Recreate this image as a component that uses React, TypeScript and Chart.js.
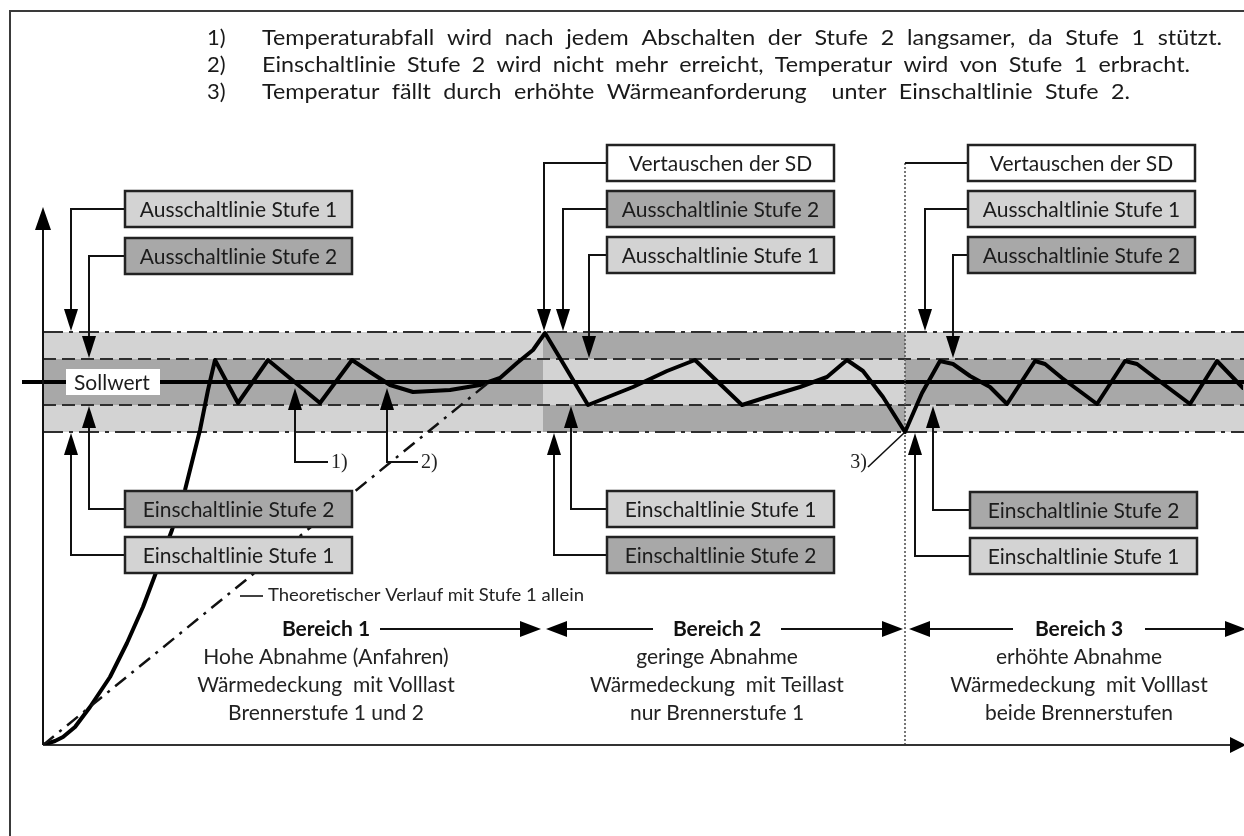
import React, { useEffect, useRef } from 'react';
import { Chart, registerables } from 'chart.js';

Chart.register(...registerables);

// ---------- data (time units / relative temperature units) ----------
const SOLLWERT = 36.3;
const STUFE2_BAND = 2.3; // half-width of Stufe 2 switching band
const STUFE1_BAND = 5.0; // half-width of Stufe 1 switching band
const REGION_BOUNDS = [0, 50, 86.2, 120];

const CURVE_TIME = [
  0, 1.2, 2.0, 3.2, 4.7, 6.7, 8.4, 10.0, 11.7, 12.9, 14.2, 15.7, 16.5, 17.2,
  19.5, 22.5, 27.7, 30.9, 32.7, 34.7, 37.0, 40.7, 43.7, 45.7, 47.4, 49.0, 50.2,
  54.5, 59.0, 62.4, 65.2, 69.9, 72.4, 75.7, 78.4, 80.4, 82.0, 84.0, 86.2,
  87.9, 89.7, 91.0, 92.7, 94.7, 96.4, 99.2, 100.2, 101.9, 105.4, 108.2, 109.4, 111.9, 114.7, 117.4, 120.0,
];
const CURVE_TEMP = [
  0, 0.4, 0.8, 1.8, 3.8, 6.8, 10.2, 13.8, 18.3, 21.5, 25.5, 31.5, 35.5, 38.5,
  34.2, 38.5, 34.2, 38.5, 37.3, 36.0, 35.3, 35.5, 36.0, 36.7, 38.2, 39.5, 41.2,
  34.0, 35.8, 37.4, 38.5, 34.0, 34.8, 35.8, 36.8, 38.5, 37.4, 34.8, 31.3,
  35.2, 38.4, 38.1, 36.9, 35.8, 34.1, 38.4, 38.1, 36.7, 34.1, 38.4, 38.1, 36.2, 34.1, 38.4, 35.7,
];
const THEORY_TIME = [0, 44.5];
const THEORY_TEMP = [0, 36.2];

const NOTE_NUMBERS = ['1)', '2)', '3)'];
const NOTE_TEXTS = [
  'Temperaturabfall wird nach jedem Abschalten der Stufe 2 langsamer, da Stufe 1 stützt.',
  'Einschaltlinie Stufe 2 wird nicht mehr erreicht, Temperatur wird von Stufe 1 erbracht.',
  'Temperatur fällt durch erhöhte Wärmeanforderung  unter Einschaltlinie Stufe 2.',
];
const REGION_TITLES = ['Bereich 1', 'Bereich 2', 'Bereich 3'];
const REGION_LINES = [
  ['Hohe Abnahme (Anfahren)', 'Wärmedeckung  mit Volllast', 'Brennerstufe 1 und 2'],
  ['geringe Abnahme', 'Wärmedeckung  mit Teillast', 'nur Brennerstufe 1'],
  ['erhöhte Abnahme', 'Wärmedeckung  mit Volllast', 'beide Brennerstufen'],
];
const THEORY_LABEL = 'Theoretischer Verlauf mit Stufe 1 allein';
const SOLL_LABEL = 'Sollwert';

// ---------- styles ----------
const LIGHT = '#d3d3d3';
const DARK = '#a8a8a8';
const WHITE = '#ffffff';
const INK = '#1c1c1c';
const SANS = 'Lato, "Open Sans", sans-serif';
const SERIF = '"Liberation Serif", "DejaVu Serif", serif';
const BOX_W = 227;
const BOX_H = 36;

type Callout = {
  bx: number; by: number; fill: string; text: string; lineX: number;
  level: number | null; dir: 'up' | 'down' | null;
};

const U1 = SOLLWERT + STUFE1_BAND;
const U2 = SOLLWERT + STUFE2_BAND;
const L2 = SOLLWERT - STUFE2_BAND;
const L1 = SOLLWERT - STUFE1_BAND;

const CALLOUTS: Callout[] = [
  { bx: 125, by: 191, fill: LIGHT, text: 'Ausschaltlinie Stufe 1', lineX: 71, level: U1, dir: 'down' },
  { bx: 125, by: 238, fill: DARK, text: 'Ausschaltlinie Stufe 2', lineX: 89, level: U2, dir: 'down' },
  { bx: 125, by: 491, fill: DARK, text: 'Einschaltlinie Stufe 2', lineX: 89, level: L2, dir: 'up' },
  { bx: 125, by: 537, fill: LIGHT, text: 'Einschaltlinie Stufe 1', lineX: 71, level: L1, dir: 'up' },
  { bx: 607, by: 145, fill: WHITE, text: 'Vertauschen der SD', lineX: 544, level: U1, dir: 'down' },
  { bx: 607, by: 191, fill: DARK, text: 'Ausschaltlinie Stufe 2', lineX: 563, level: U1, dir: 'down' },
  { bx: 607, by: 237, fill: LIGHT, text: 'Ausschaltlinie Stufe 1', lineX: 589, level: U2, dir: 'down' },
  { bx: 607, by: 491, fill: LIGHT, text: 'Einschaltlinie Stufe 1', lineX: 571, level: L2, dir: 'up' },
  { bx: 607, by: 537, fill: DARK, text: 'Einschaltlinie Stufe 2', lineX: 554, level: L1, dir: 'up' },
  { bx: 968, by: 145, fill: WHITE, text: 'Vertauschen der SD', lineX: 905, level: null, dir: null },
  { bx: 968, by: 191, fill: LIGHT, text: 'Ausschaltlinie Stufe 1', lineX: 925, level: U1, dir: 'down' },
  { bx: 968, by: 237, fill: DARK, text: 'Ausschaltlinie Stufe 2', lineX: 953, level: U2, dir: 'down' },
  { bx: 970, by: 492, fill: DARK, text: 'Einschaltlinie Stufe 2', lineX: 933, level: L2, dir: 'up' },
  { bx: 970, by: 538, fill: LIGHT, text: 'Einschaltlinie Stufe 1', lineX: 915, level: L1, dir: 'up' },
];

function arrowHead(ctx: CanvasRenderingContext2D, tx: number, ty: number, dir: string, len = 21, half = 7) {
  ctx.beginPath();
  ctx.moveTo(tx, ty);
  if (dir === 'down') { ctx.lineTo(tx - half, ty - len); ctx.lineTo(tx + half, ty - len); }
  else if (dir === 'up') { ctx.lineTo(tx - half, ty + len); ctx.lineTo(tx + half, ty + len); }
  else if (dir === 'right') { ctx.lineTo(tx - len, ty - half); ctx.lineTo(tx - len, ty + half); }
  else { ctx.lineTo(tx + len, ty - half); ctx.lineTo(tx + len, ty + half); }
  ctx.closePath();
  ctx.fill();
}

function hLine(ctx: CanvasRenderingContext2D, x0: number, x1: number, yy: number, dash: number[], width: number, color: string) {
  ctx.save();
  ctx.setLineDash(dash);
  ctx.lineWidth = width;
  ctx.strokeStyle = color;
  ctx.beginPath();
  ctx.moveTo(x0, yy);
  ctx.lineTo(x1, yy);
  ctx.stroke();
  ctx.restore();
}

// left-aligned text: words spread so the line ends at x + width
function spreadText(ctx: CanvasRenderingContext2D, text: string, x: number, y: number, width: number) {
  const words = text.split(' ');
  const widths = words.map((w) => ctx.measureText(w).width);
  const total = widths.reduce((a, b) => a + b, 0);
  const natural = ctx.measureText(text).width;
  // stretch glyphs mildly, put the rest into the gaps
  const k = Math.min(1.06, Math.max(1, width / natural));
  const gap = (width - total * k) / (words.length - 1);
  ctx.save();
  ctx.textAlign = 'left';
  let cx = x;
  words.forEach((w, i) => {
    ctx.save();
    ctx.translate(cx, y);
    ctx.scale(k, 1);
    ctx.fillText(w, 0, 0);
    ctx.restore();
    cx += widths[i] * k + gap;
  });
  ctx.restore();
}

function fitText(ctx: CanvasRenderingContext2D, text: string, x: number, y: number, width: number) {
  const w = ctx.measureText(text).width;
  ctx.save();
  ctx.translate(x, y);
  ctx.scale(width / w, 1);
  ctx.textAlign = 'left';
  ctx.fillText(text, 0, 0);
  ctx.restore();
}

const backgroundPlugin = {
  id: 'diagramBackground',
  beforeDatasetsDraw(chart: any) {
    const { ctx, chartArea, scales } = chart;
    const xs = scales.x, ys = scales.y;
    const W = chart.width;
    ctx.save();
    // outer frame
    ctx.strokeStyle = '#3a3a3a';
    ctx.lineWidth = 2;
    ctx.strokeRect(10, 11, W + 40, 900);

    // bands per region
    for (let i = 0; i < REGION_BOUNDS.length - 1; i++) {
      const x0 = xs.getPixelForValue(REGION_BOUNDS[i]);
      const x1 = i === REGION_BOUNDS.length - 2 ? W : xs.getPixelForValue(REGION_BOUNDS[i + 1]);
      const swapped = i === 1;
      const outer = swapped ? DARK : LIGHT;
      const inner = swapped ? LIGHT : DARK;
      const yU1 = ys.getPixelForValue(U1), yU2 = ys.getPixelForValue(U2);
      const yL2 = ys.getPixelForValue(L2), yL1 = ys.getPixelForValue(L1);
      ctx.fillStyle = outer;
      ctx.fillRect(x0, yU1, x1 - x0, yU2 - yU1);
      ctx.fillRect(x0, yL2, x1 - x0, yL1 - yL2);
      ctx.fillStyle = inner;
      ctx.fillRect(x0, yU2, x1 - x0, yL2 - yU2);
    }
    const left = chartArea.left;
    hLine(ctx, left, W, ys.getPixelForValue(U1), [20, 6, 4, 6], 2, '#2e2e2e');
    hLine(ctx, left, W, ys.getPixelForValue(L1), [20, 6, 4, 6], 2, '#2e2e2e');
    hLine(ctx, left, W, ys.getPixelForValue(U2), [13, 6], 2, '#2e2e2e');
    hLine(ctx, left, W, ys.getPixelForValue(L2), [13, 6], 2, '#2e2e2e');
    // Sollwert line
    const ySoll = ys.getPixelForValue(SOLLWERT);
    hLine(ctx, 22, W, ySoll, [], 4, '#000');
    ctx.fillStyle = '#fff';
    ctx.fillRect(66, ySoll - 13, 94, 26);
    ctx.fillStyle = INK;
    ctx.font = `21px ${SANS}`;
    ctx.textBaseline = 'middle';
    ctx.textAlign = 'left';
    ctx.fillText(SOLL_LABEL, 74, ySoll + 1);

    // dotted separator of region 3
    const xSep = xs.getPixelForValue(REGION_BOUNDS[2]);
    ctx.save();
    ctx.setLineDash([2, 2]);
    ctx.strokeStyle = '#555';
    ctx.lineWidth = 1.6;
    ctx.beginPath();
    ctx.moveTo(xSep, 163);
    ctx.lineTo(xSep, ys.getPixelForValue(0));
    ctx.stroke();
    ctx.restore();

    // axes
    const x0p = xs.getPixelForValue(0), y0p = ys.getPixelForValue(0);
    ctx.strokeStyle = '#111';
    ctx.fillStyle = '#000';
    ctx.lineWidth = 2;
    ctx.beginPath();
    ctx.moveTo(x0p, y0p);
    ctx.lineTo(x0p, chartArea.top + 15);
    ctx.stroke();
    arrowHead(ctx, x0p, chartArea.top + 2, 'up', 23, 8);
    ctx.strokeStyle = '#333';
    ctx.beginPath();
    ctx.moveTo(x0p, y0p);
    ctx.lineTo(W - 10, y0p);
    ctx.stroke();
    arrowHead(ctx, W + 2, y0p, 'right', 16, 8);
    ctx.restore();
  },
};

const annotationPlugin = {
  id: 'diagramAnnotations',
  afterDatasetsDraw(chart: any) {
    const { ctx, scales } = chart;
    const xs = scales.x, ys = scales.y;
    ctx.save();
    ctx.lineJoin = 'miter';
    // callouts
    for (const c of CALLOUTS) {
      const cy = c.by + BOX_H / 2;
      ctx.strokeStyle = '#111';
      ctx.fillStyle = '#000';
      ctx.lineWidth = 2;
      ctx.beginPath();
      ctx.moveTo(c.bx, cy);
      ctx.lineTo(c.lineX, cy);
      if (c.level !== null && c.dir) {
        const tipY = ys.getPixelForValue(c.level) + (c.dir === 'up' ? 1 : -1);
        ctx.lineTo(c.lineX, c.dir === 'down' ? tipY - 15 : tipY + 15);
        ctx.stroke();
        arrowHead(ctx, c.lineX, tipY, c.dir, 22, 7);
      } else {
        ctx.stroke();
      }
      ctx.fillStyle = c.fill;
      ctx.fillRect(c.bx, c.by, BOX_W, BOX_H);
      ctx.lineWidth = 2.5;
      ctx.strokeStyle = '#222';
      ctx.strokeRect(c.bx, c.by, BOX_W, BOX_H);
      ctx.fillStyle = INK;
      ctx.font = `21px ${SANS}`;
      ctx.textAlign = 'center';
      ctx.textBaseline = 'middle';
      ctx.fillText(c.text, c.bx + BOX_W / 2, cy + 1, BOX_W - 16);
    }

    // numbered pointers 1) 2) 3)
    ctx.fillStyle = '#000';
    ctx.strokeStyle = '#111';
    ctx.lineWidth = 2;
    const pointers = [
      { x: 295, end: 328, label: NOTE_NUMBERS[0] },
      { x: 387, end: 418, label: NOTE_NUMBERS[1] },
    ];
    const tipY = ys.getPixelForValue(SOLLWERT - 0.6);
    for (const p of pointers) {
      ctx.beginPath();
      ctx.moveTo(p.x, tipY + 15);
      ctx.lineTo(p.x, 462);
      ctx.lineTo(p.end, 462);
      ctx.stroke();
      arrowHead(ctx, p.x, tipY, 'up', 22, 7);
      ctx.font = `20px ${SERIF}`;
      ctx.textAlign = 'left';
      ctx.textBaseline = 'middle';
      ctx.fillStyle = '#222';
      ctx.fillText(p.label, p.end + 3, 463);
      ctx.fillStyle = '#000';
    }
    // 3) slanted pointer to trough
    const trough = { x: xs.getPixelForValue(REGION_BOUNDS[2]), y: ys.getPixelForValue(L1) };
    ctx.lineWidth = 1.6;
    ctx.beginPath();
    ctx.moveTo(868, 467);
    ctx.lineTo(trough.x - 1, trough.y + 1);
    ctx.stroke();
    ctx.font = `20px ${SERIF}`;
    ctx.textAlign = 'right';
    ctx.fillStyle = '#222';
    ctx.fillText(NOTE_NUMBERS[2], 867, 463);

    // theoretical label
    ctx.strokeStyle = '#111';
    ctx.lineWidth = 1.6;
    ctx.beginPath();
    ctx.moveTo(240, 596);
    ctx.lineTo(263, 596);
    ctx.stroke();
    ctx.font = `17px ${SANS}`;
    ctx.fillStyle = '#222';
    fitText(ctx, THEORY_LABEL, 268, 596, 316);

    // top notes
    ctx.font = `22px ${SANS}`;
    ctx.fillStyle = '#1a1a1a';
    const noteY = [38, 65, 92];
    const noteEnds = [1222, 1190, 1130];
    NOTE_TEXTS.forEach((t, i) => {
      ctx.textAlign = 'left';
      ctx.fillText(NOTE_NUMBERS[i], 207, noteY[i]);
      spreadText(ctx, t, 262, noteY[i], noteEnds[i] - 262);
    });

    // region titles with arrows
    const centers = [326, 717, 1079];
    const arrowSpecs = [
      { lt: null, le: 0, rs: 380, rt: 541 },
      { lt: 546, le: 653, rs: 781, rt: 903 },
      { lt: 909, le: 1013, rs: 1145, rt: 1246 },
    ];
    const ty = 629;
    centers.forEach((cx, i) => {
      ctx.font = `bold 21px ${SANS}`;
      ctx.textAlign = 'center';
      ctx.fillStyle = '#111';
      ctx.fillText(REGION_TITLES[i], cx, ty);
      ctx.strokeStyle = '#111';
      ctx.fillStyle = '#000';
      ctx.lineWidth = 2;
      const a = arrowSpecs[i];
      if (a.lt !== null) {
        ctx.beginPath();
        ctx.moveTo(a.lt + 10, ty);
        ctx.lineTo(a.le, ty);
        ctx.stroke();
        arrowHead(ctx, a.lt, ty, 'left', 21, 8);
      }
      ctx.beginPath();
      ctx.moveTo(a.rs, ty);
      ctx.lineTo(a.rt - 10, ty);
      ctx.stroke();
      arrowHead(ctx, a.rt, ty, 'right', 21, 8);
      ctx.font = `21px ${SANS}`;
      ctx.fillStyle = '#222';
      REGION_LINES[i].forEach((line, j) => {
        ctx.fillText(line, cx, 657 + j * 28);
      });
    });
    ctx.restore();
  },
};

export default function App() {
  const canvasRef = useRef<HTMLCanvasElement | null>(null);

  useEffect(() => {
    const canvas = canvasRef.current;
    if (!canvas) return;
    const curve = CURVE_TIME.map((t, i) => ({ x: t, y: CURVE_TEMP[i] }));
    const theory = THEORY_TIME.map((t, i) => ({ x: t, y: THEORY_TEMP[i] }));
    const chart = new Chart(canvas, {
      type: 'line',
      data: {
        datasets: [
          {
            label: 'Theoretischer Verlauf',
            data: theory,
            borderColor: '#111',
            borderWidth: 2.5,
            borderDash: [14, 7, 3, 7],
            pointRadius: 0,
            tension: 0,
          },
          {
            label: 'Temperatur',
            data: curve,
            borderColor: '#000',
            borderWidth: 4,
            pointRadius: 0,
            tension: 0,
            borderJoinStyle: 'round',
            borderCapStyle: 'round',
          },
        ],
      },
      options: {
        responsive: false,
        animation: false,
        devicePixelRatio: 1,
        layout: { padding: { left: 43, right: 1, top: 205, bottom: 91 } },
        scales: {
          x: { type: 'linear', min: 0, max: 120, display: false },
          y: { type: 'linear', min: 0, max: 54, display: false },
        },
        plugins: { legend: { display: false }, tooltip: { enabled: false } },
        events: [],
      },
      plugins: [backgroundPlugin, annotationPlugin],
    } as any);
    return () => chart.destroy();
  }, []);

  return (
    <div style={{ position: 'fixed', left: 0, top: 0, width: 1244, height: 836, background: '#fff' }}>
      <canvas ref={canvasRef} width={1244} height={836} style={{ width: 1244, height: 836, display: 'block' }} />
    </div>
  );
}
